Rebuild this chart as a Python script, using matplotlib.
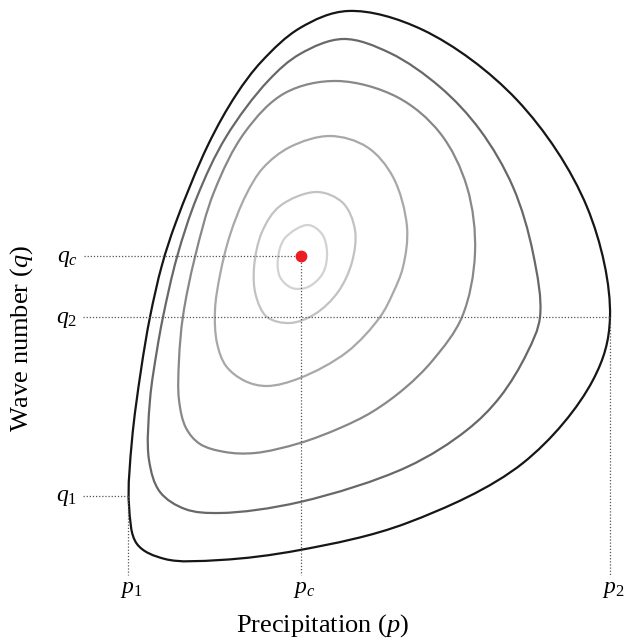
import matplotlib as mpl
import matplotlib.pyplot as plt
import numpy as np
from matplotlib.path import Path
from matplotlib.patches import PathPatch

mpl.rcParams["font.family"] = ["Liberation Serif", "DejaVu Serif"]
mpl.rcParams["mathtext.fontset"] = "custom"
mpl.rcParams["mathtext.rm"] = "Liberation Serif"
mpl.rcParams["mathtext.it"] = "Liberation Serif:italic"

H = 644  # q = H - pixel row

# contour points (p, pixel row), outermost first
c1 = [(348, 11), (423, 30), (517, 100), (587, 207), (610, 317), (593, 380), (523, 463),
      (407, 523), (300, 550), (220, 560), (165, 559), (137, 544), (129, 505), (132, 440),
      (141, 370), (150, 317), (162, 265), (176, 222), (208, 145), (236, 95), (262, 61),
      (300, 28)]
c2 = [(343, 39), (390, 53), (440, 87), (480, 130), (513, 187), (533, 253), (540, 317),
      (527, 353), (500, 397), (467, 430), (407, 467), (300, 502), (220, 513), (185, 509),
      (160, 492), (149, 460), (150, 400), (157, 350), (163, 317), (177, 257), (197, 197),
      (226, 137), (268, 81), (300, 54)]
c3 = [(337, 81), (397, 97), (440, 133), (467, 187), (475, 253), (462, 317), (433, 360),
      (405, 388), (372, 412), (340, 428), (300, 443), (255, 453), (225, 452), (200, 444),
      (186, 428), (179, 400), (179, 360), (183, 316), (195, 257), (214, 192), (245, 132),
      (285, 93)]
c4 = [(330, 136), (367, 147), (393, 177), (407, 227), (403, 267), (393, 293), (380, 317),
      (347, 352), (300, 378), (267, 386), (245, 381), (226, 366), (217, 343), (215, 310),
      (220, 275), (230, 235), (246, 195), (263, 168), (290, 147)]
c5 = [(317, 192), (343, 203), (355, 230), (352, 262), (338, 292), (315, 314), (290, 323),
      (267, 317), (256, 296), (254, 268), (262, 232), (280, 206)]
c6 = [(308, 225), (322, 234), (327, 252), (323, 273), (308, 287), (292, 288), (280, 277),
      (278, 258), (285, 238)]
contours = [c1, c2, c3, c4, c5, c6]
colors = ["#161616", "#686868", "#888888", "#a8a8a8", "#c2c2c2", "#d2d2d2"]

# special points
p1, pc, p2 = 128, 301, 610
q1, qc, q2 = H - 496, H - 256, H - 317


def closed_path(pts, alpha=0.5):
    # centripetal catmull-rom through the read points -> cubic bezier segments
    P = np.array([(x, H - y) for x, y in pts], float)
    n = len(P)
    verts = [P[0]]
    codes = [Path.MOVETO]
    for i in range(n):
        a, b, c, d = P[i - 1], P[i], P[(i + 1) % n], P[(i + 2) % n]
        d1 = np.linalg.norm(b - a) ** alpha
        d2 = np.linalg.norm(c - b) ** alpha
        d3 = np.linalg.norm(d - c) ** alpha
        b1 = (d1**2 * c - d2**2 * a + (2 * d1**2 + 3 * d1 * d2 + d2**2) * b) / (3 * d1 * (d1 + d2))
        b2 = (d3**2 * b - d2**2 * d + (2 * d3**2 + 3 * d3 * d2 + d2**2) * c) / (3 * d3 * (d3 + d2))
        verts += [b1, b2, c]
        codes += [Path.CURVE4] * 3
    return Path(verts, codes)


fig = plt.figure(figsize=(6.29, 6.44), dpi=100)
ax = fig.add_axes([0, 0, 1, 1])
ax.set_xlim(0, 629)
ax.set_ylim(0, H)
ax.axis("off")

# dotted guides
dot = dict(color="#555555", lw=0.9, ls=(0, (1, 1.5)))
ax.plot([84, pc], [qc, qc], **dot)
ax.plot([83, p2], [q2, q2], **dot)
ax.plot([83, p1], [q1, q1], **dot)
ax.plot([p1, p1], [q1, H - 575], **dot)
ax.plot([pc, pc], [qc, H - 575], **dot)
ax.plot([p2, p2], [q2, H - 575], **dot)

for pts, col in zip(contours, colors):
    ax.add_patch(PathPatch(closed_path(pts), fc="none", ec=col, lw=1.6))

ax.plot(pc, qc, "o", color="#ec1c24", ms=7.5, zorder=5)

fs = 17
ax.text(67, qc - 2, r"$q_c$", fontsize=fs, ha="center", va="center")
ax.text(67, q2 - 2, r"$q_2$", fontsize=fs, ha="center", va="center")
ax.text(67, q1 - 2, r"$q_{\mathit{1}}$", fontsize=fs, ha="center", va="center")
ax.text(p1 + 3, H - 589, r"$p_{\mathit{1}}$", fontsize=fs, ha="center", va="center")
ax.text(pc + 3, H - 589, r"$p_c$", fontsize=fs, ha="center", va="center")
ax.text(p2 + 3, H - 589, r"$p_2$", fontsize=fs, ha="center", va="center")

ax.text(322, H - 626, r"Precipitation ($p$)", fontsize=19, ha="center", va="center")
ax.text(22, H - 339, r"Wave number ($q$)", fontsize=19, ha="center", va="center",
        rotation=90)

fig.savefig("out.png", dpi=100)
